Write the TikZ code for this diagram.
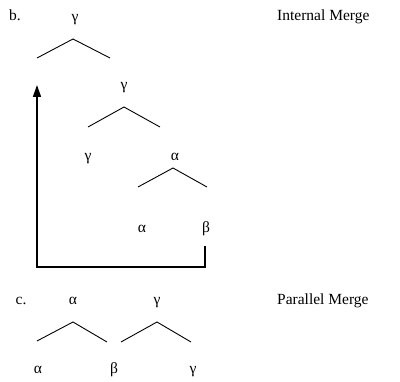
\documentclass[tikz,border=0pt]{standalone}
\usepackage{fontspec}
\setmainfont{Liberation Serif}
\usetikzlibrary{arrows.meta}
\begin{document}
\begin{tikzpicture}[x=1pt,y=-1pt,
  lbl/.style={inner sep=0pt,anchor=base,font=\fontsize{15.5}{18}\selectfont},
  branch/.style={line width=0.9pt},
  move/.style={line width=1.6pt}]
\useasboundingbox (0,0) rectangle (400,382);
% example b: internal merge
\node[lbl] (bl) at (15,21) {b.};
\node[lbl,anchor=base west] (im) at (277,21) {Internal Merge};
\node[lbl] (g1) at (75,22) {γ};
\coordinate (a1) at (73,39);
\coordinate (l1) at (37,58);
\coordinate (r1) at (110,58);
\draw[branch] (l1) -- (a1) -- (r1);
\node[lbl] (g2) at (124,90) {γ};
\coordinate (a2) at (124,107);
\coordinate (l2) at (88,127);
\coordinate (r2) at (160,127);
\draw[branch] (l2) -- (a2) -- (r2);
\node[lbl] (g3) at (88,161) {γ};
\node[lbl] (a3n) at (175,161) {α};
\coordinate (a3) at (173,168);
\coordinate (l3) at (138,187);
\coordinate (r3) at (207,187);
\draw[branch] (l3) -- (a3) -- (r3);
\node[lbl] (al) at (142,233) {α};
\node[lbl] (be) at (206,233) {β};
\coordinate (bt) at (205,246);
\coordinate (tip) at (37,85);
\draw[move,-{Triangle[length=12pt,width=8pt]}] (bt) -- (205,267) -- (37,267) -- (tip);
% example c: parallel merge
\node[lbl] (cl) at (21,305) {c.};
\node[lbl,anchor=base west] (pm) at (277,305) {Parallel Merge};
\node[lbl] (ct1) at (73,305) {α};
\node[lbl] (ct2) at (157,305) {γ};
\coordinate (ca1) at (73,322);
\coordinate (cl1) at (37,341);
\coordinate (cr1) at (107,342);
\draw[branch] (cl1) -- (ca1) -- (cr1);
\coordinate (ca2) at (157,322);
\coordinate (cl2) at (121,342);
\coordinate (cr2) at (191,342);
\draw[branch] (cl2) -- (ca2) -- (cr2);
\node[lbl] (cb1) at (38,374) {α};
\node[lbl] (cb2) at (114,374) {β};
\node[lbl] (cb3) at (193,374) {γ};
\end{tikzpicture}
\end{document}
